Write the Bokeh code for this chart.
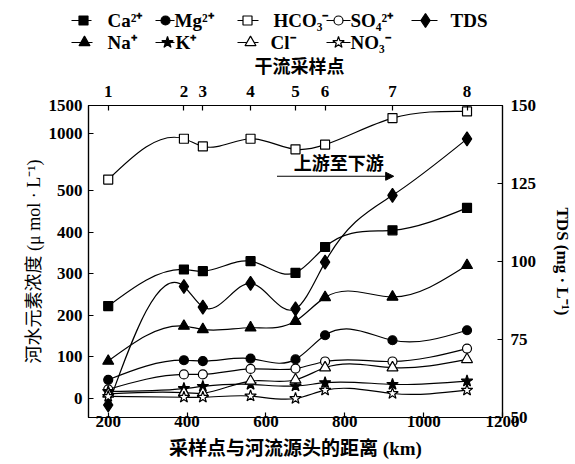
import numpy as np
from bokeh.plotting import figure
from bokeh.models import (Range1d, LinearAxis, FixedTicker, Arrow, NormalHead, Label,
                          ColumnDataSource)
from bokeh.embed import file_html
from bokeh.resources import INLINE
from bokeh.core.properties import value

# ---------------- data ----------------
site_labels = ["1", "2", "3", "4", "5", "6", "7", "8"]
distance_km = [200, 392, 440, 561, 675, 750, 921, 1110]
ca = [222, 310, 306, 330, 302, 364, 404, 458]
mg = [45, 92, 90, 96, 94, 152, 140, 164]
hco3 = [595, 953, 886, 953, 860, 901, 1274, 1394]
so4 = [22, 58, 58, 71, 72, 89, 89, 120]
na = [90, 174, 166, 170, 186, 243, 244, 320]
k_ion = [17, 24, 29, 34, 30, 38, 34, 42]
cl = [11, 14, 13, 42, 45, 74, 74, 94]
no3 = [5, 3, 3, 6, 0, 20, 12, 20]
tds = [54, 92, 85.4, 93, 84.8, 99.8, 121.2, 139.3]

x_ticks = [200, 400, 600, 800, 1000, 1200]
conc_ticks = [0, 100, 200, 300, 400, 500, 1000, 1500]
tds_ticks = [50, 75, 100, 125, 150]

# broken concentration axis: linear up to 500, compressed above
BREAK_IN = [-1000, 500, 1000, 1500]
BREAK_OUT = [-1000, 500, 637, 704]


def tf(v):
    return np.interp(np.asarray(v, float), BREAK_IN, BREAK_OUT)


def spline_bezier(x, y):
    x = np.asarray(x, float)
    y = np.asarray(y, float)
    n = len(x)
    h = np.diff(x)
    d = np.diff(y) / h
    A = np.zeros((n, n))
    r = np.zeros(n)
    A[0, 0] = 1
    A[-1, -1] = 1
    for i in range(1, n - 1):
        A[i, i - 1] = h[i - 1]
        A[i, i] = 2 * (h[i - 1] + h[i])
        A[i, i + 1] = h[i]
        r[i] = 6 * (d[i] - d[i - 1])
    M = np.linalg.solve(A, r)
    m = np.empty(n)
    m[:-1] = d - h * (2 * M[:-1] + M[1:]) / 6
    m[-1] = d[-1] + h[-1] * (M[-2] + 2 * M[-1]) / 6
    return dict(x0=x[:-1], y0=y[:-1], x1=x[1:], y1=y[1:],
                cx0=x[:-1] + h / 3, cy0=y[:-1] + m[:-1] * h / 3,
                cx1=x[1:] - h / 3, cy1=y[1:] - m[1:] * h / 3)


SERIF = "Liberation Serif"
CJK = "Noto Sans CJK SC"
MIX = "Liberation Serif, Noto Sans CJK SC"
TICK_SIZE = "17px"
LW = 1.2

W = 575
LH = 76            # legend strip height
MH = 463 - LH      # main figure height
B_LEFT, B_RIGHT, B_TOP, B_BOTTOM = 88, 71, 105 - LH, 46

# ---------------- main figure ----------------
p = figure(width=W, height=MH, x_range=Range1d(150, 1200), y_range=Range1d(-45.6, 704),
           output_backend="svg", toolbar_location=None,
           min_border_left=B_LEFT, min_border_right=B_RIGHT,
           min_border_top=B_TOP, min_border_bottom=B_BOTTOM)
p.grid.visible = False
p.outline_line_color = "black"
p.outline_line_width = LW
p.background_fill_color = "white"
p.border_fill_color = "white"


def style_axis(ax):
    ax.axis_line_color = "black"
    ax.axis_line_width = LW
    ax.major_tick_line_color = "black"
    ax.major_tick_line_width = LW
    ax.major_tick_in = 5
    ax.major_tick_out = 0
    ax.minor_tick_line_color = None
    ax.major_label_text_font = SERIF
    ax.major_label_text_font_style = "bold"
    ax.major_label_text_font_size = TICK_SIZE
    ax.major_label_text_color = "black"
    ax.axis_label_text_color = "black"


xa = p.xaxis[0]
style_axis(xa)
xa.ticker = FixedTicker(ticks=x_ticks)
xa.major_label_standoff = -2
xa.axis_label = "采样点与河流源头的距离 (km)"
xa.axis_label_text_font = MIX
xa.axis_label_text_font_style = "bold"
xa.axis_label_text_font_size = "19px"
xa.axis_label_standoff = 8

ya = p.yaxis[0]
style_axis(ya)
tick_pos = [float(v) for v in tf(conc_ticks)]
ya.ticker = FixedTicker(ticks=tick_pos)
ya.major_label_overrides = {pos: str(v) for pos, v in zip(tick_pos, conc_ticks)}
ya.major_label_standoff = 6
ya.axis_label = "河水元素浓度 (μ mol · L⁻¹)"
ya.axis_label_text_font = MIX
ya.axis_label_text_font_style = "normal"
ya.axis_label_text_font_size = "18px"
ya.axis_label_standoff = 2

# right TDS axis
p.extra_y_ranges = {"tds": Range1d(50, 150)}
ra = LinearAxis(y_range_name="tds", ticker=FixedTicker(ticks=tds_ticks),
                axis_label="TDS (mg · L⁻¹)")
style_axis(ra)
ra.major_label_standoff = 8
ra.axis_label_text_font = SERIF
ra.axis_label_text_font_style = "bold"
ra.axis_label_text_font_size = "17px"
ra.axis_label_standoff = 14
p.add_layout(ra, "right")

# top sampling-site axis
ta = LinearAxis(ticker=FixedTicker(ticks=distance_km),
                major_label_overrides={d: s for d, s in zip(distance_km, site_labels)})
style_axis(ta)
ta.major_label_standoff = 9
p.add_layout(ta, "above")

# series
series = [
    ("Ca²⁺", ca, "square", "black", 9, "default"),
    ("Mg²⁺", mg, "circle", "black", 9, "default"),
    ("HCO₃⁻", hco3, "square", "white", 9, "default"),
    ("SO₄²⁺", so4, "circle", "white", 9, "default"),
    ("TDS", tds, "diamond", "black", 14, "tds"),
    ("Na⁺", na, "triangle", "black", 11, "default"),
    ("K⁺", k_ion, "star", "black", 12, "default"),
    ("Cl⁻", cl, "triangle", "white", 11, "default"),
    ("NO₃⁻", no3, "star", "white", 12, "default"),
]

for name, vals, marker, fill, size, rng in series:
    yv = np.asarray(vals, float) if rng == "tds" else tf(vals)
    seg = ColumnDataSource(spline_bezier(distance_km, yv))
    p.bezier(x0="x0", y0="y0", x1="x1", y1="y1", cx0="cx0", cy0="cy0", cx1="cx1", cy1="cy1",
             source=seg, line_color="black", line_width=LW, y_range_name=rng)

for name, vals, marker, fill, size, rng in series:
    yv = np.asarray(vals, float) if rng == "tds" else tf(vals)
    p.scatter(x=distance_km, y=yv, marker=marker, size=size, fill_color=fill,
              line_color="black", line_width=LW, y_range_name=rng)

# upstream -> downstream arrow
p.add_layout(Arrow(end=NormalHead(size=8, fill_color="black", line_color="black"),
                   x_start=628, y_start=534, x_end=924, y_end=534,
                   line_color="black", line_width=LW))
p.add_layout(Label(x=785, y=568, text="上游至下游", text_align="center", text_baseline="middle",
                   text_font=CJK, text_font_style="bold", text_font_size="18px",
                   text_color="black"))

# ---------------- legend strip (separate root, pixel coordinates) ----------------
lg = figure(width=W, height=LH, x_range=Range1d(0, W), y_range=Range1d(LH, 0),
            output_backend="svg", toolbar_location=None,
            x_axis_location=None, y_axis_location=None, min_border=0)
lg.grid.visible = False
lg.outline_line_color = None
lg.background_fill_color = "white"
lg.border_fill_color = "white"

leg_row_y = [20, 20, 20, 20, 20, 42, 42, 42, 42]
leg_line_x0 = [71, 155, 237, 326, 411, 71, 155, 237, 326]
leg_line_x1 = [91, 174, 258, 350, 437, 92, 174, 258, 350]
leg_marker_x = [83, 165, 247, 338, 425, 84, 167, 250, 338]
leg_text_x = [107, 174, 273, 350, 450, 107, 175, 270, 350]

lg.segment(x0=leg_line_x0, y0=leg_row_y, x1=leg_line_x1, y1=leg_row_y,
           line_color="black", line_width=LW)
for i, (name, vals, marker, fill, size, rng) in enumerate(series):
    lg.scatter(x=[leg_marker_x[i]], y=[leg_row_y[i]], marker=marker, size=size,
               fill_color=fill, line_color="black", line_width=LW)
lg.text(x=leg_text_x, y=leg_row_y, text=[s[0] for s in series], text_align="left",
        text_baseline="middle", text_font=value(SERIF), text_font_style="bold",
        text_font_size="19px", text_color="black")
lg.text(x=[299], y=[64], text=["干流采样点"], text_align="center", text_baseline="middle",
        text_font=value(CJK), text_font_style="bold", text_font_size="18px", text_color="black")

open("out.html", "w").write(file_html([lg, p], INLINE))
